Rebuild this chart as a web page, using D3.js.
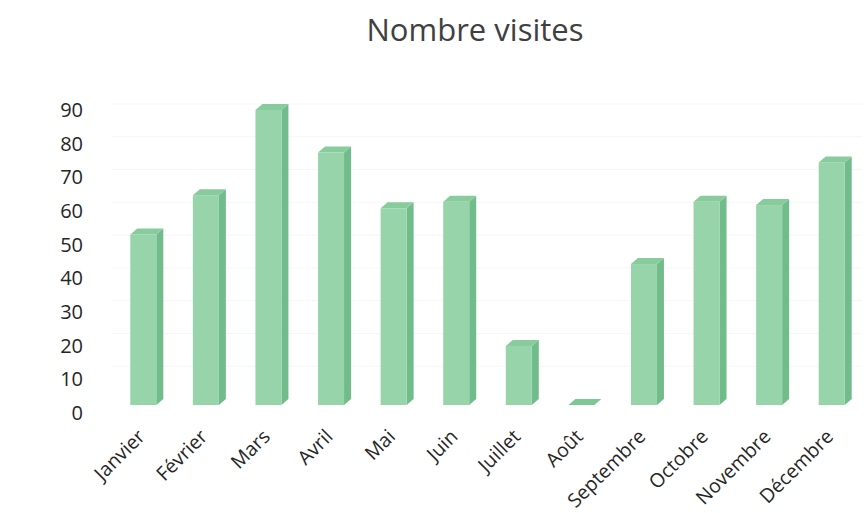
<!DOCTYPE html>
<html>
<head>
<meta charset="utf-8">
<script src="https://cdn.jsdelivr.net/npm/d3@7"></script>
<style>
  body { margin: 0; background: #fff; }
</style>
</head>
<body>
<script>
// data
var months = ["Janvier", "Février", "Mars", "Avril", "Mai", "Juin", "Juillet", "Août",
              "Septembre", "Octobre", "Novembre", "Décembre"];
var visits = [52, 64, 90, 77, 60, 62, 18, 0, 43, 62, 61, 74];
var yTicks = [0, 10, 20, 30, 40, 50, 60, 70, 80, 90];

var width = 865, height = 513;
var frontColor = "#97d4aa", sideColor = "#70bd8b", topColor = "#88cb9d";
var depthX = 7, depthY = 6;
var font = "'Open Sans', 'Noto Sans', sans-serif";

const svg = d3.select("body").append("svg")
    .attr("width", width)
    .attr("height", height)
    .style("font-family", font);

// title
svg.append("text")
    .attr("x", 475)
    .attr("y", 41)
    .attr("text-anchor", "middle")
    .style("font-size", "31px")
    .style("fill", "#404040")
    .text("Nombre visites");

// axis scale (labels) and bar scale (front faces sit a bit higher, 3d look)
const y = d3.scaleLinear().domain([0, 90]).range([413, 110]);
const yBar = d3.scaleLinear().domain([0, 90]).range([405, 110]);

const x = d3.scaleBand()
    .domain(months)
    .range([112, 863]);
const barW = 26;

// very faint back gridlines
svg.append("g")
    .selectAll("line")
    .data(yTicks.slice(1))
    .join("line")
    .attr("x1", 112).attr("x2", 862)
    .attr("y1", d => yBar(d) - depthY).attr("y2", d => yBar(d) - depthY)
    .attr("stroke", "#f6f6f6");

// y axis labels
const yAxis = svg.append("g")
    .attr("transform", "translate(83,0)")
    .call(d3.axisLeft(y).tickValues(yTicks).tickSize(0).tickPadding(0));
yAxis.select(".domain").remove();
yAxis.selectAll("text")
    .style("font-size", "20px")
    .style("fill", "#262626")
    .style("font-family", font);

// bars
const bars = svg.append("g")
    .selectAll("g")
    .data(months.map((m, i) => ({ month: m, value: visits[i] })))
    .join("g");

bars.each(function (d) {
    const g = d3.select(this);
    const x0 = x(d.month) + x.bandwidth() / 2 - barW / 2;
    const x1 = x0 + barW;
    const yt = yBar(d.value);
    const yb = yBar(0);
    // side face
    g.append("path")
        .attr("d", `M${x1},${yt} L${x1 + depthX},${yt - depthY} L${x1 + depthX},${yb - depthY} L${x1},${yb} Z`)
        .attr("fill", sideColor);
    // front face
    g.append("rect")
        .attr("x", x0).attr("y", yt)
        .attr("width", barW).attr("height", Math.max(0, yb - yt))
        .attr("fill", frontColor);
    // top face
    g.append("path")
        .attr("d", `M${x0},${yt} L${x0 + depthX},${yt - depthY} L${x1 + depthX},${yt - depthY} L${x1},${yt} Z`)
        .attr("fill", d.value === 0 ? "#7cc795" : topColor);
});

// x labels, rotated
svg.append("g")
    .selectAll("text")
    .data(months)
    .join("text")
    .attr("transform", d => `translate(${x(d) + x.bandwidth() / 2 - 2},${433}) rotate(-45)`)
    .attr("text-anchor", "end")
    .attr("dy", "0.35em")
    .style("font-size", "19.5px")
    .style("fill", "#262626")
    .text(d => d);
</script>
</body>
</html>
